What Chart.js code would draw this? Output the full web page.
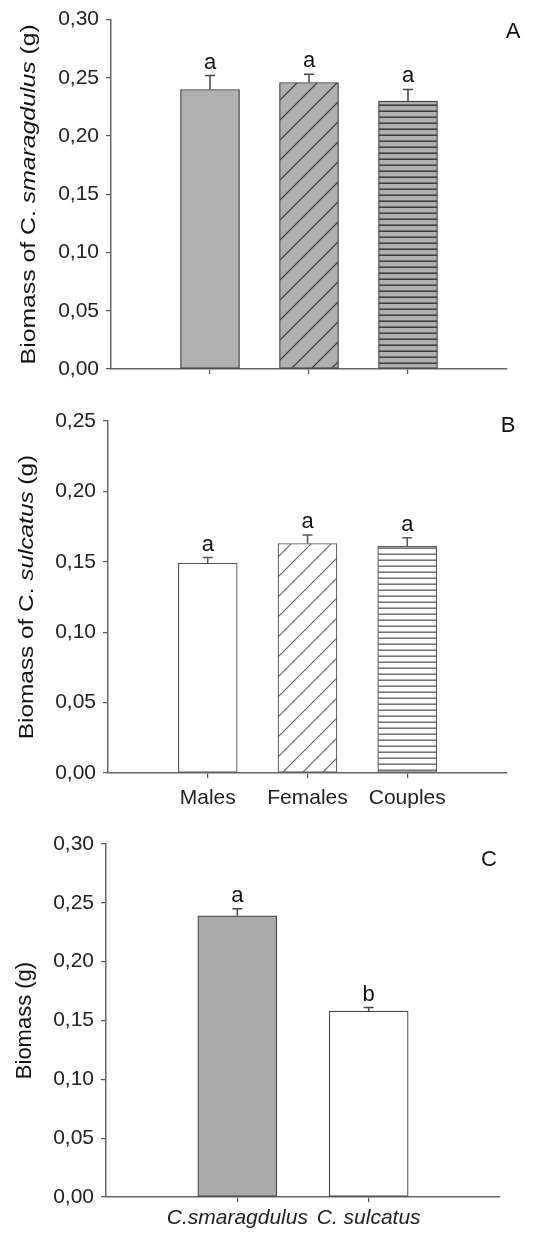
<!DOCTYPE html>
<html>
<head>
<meta charset="utf-8">
<script src="https://cdn.jsdelivr.net/npm/chart.js@4.4.0/dist/chart.umd.min.js"></script>
<style>
body { margin: 0; background: #fff; }
.panel { position: absolute; left: 0; width: 533px; }
</style>
</head>
<body>
<div class="panel" style="top:0;height:395px"><canvas id="chartA" width="533" height="395"></canvas></div>
<div class="panel" style="top:395px;height:425px"><canvas id="chartB" width="533" height="425"></canvas></div>
<div class="panel" style="top:820px;height:416px"><canvas id="chartC" width="533" height="416"></canvas></div>
<script>
var FONT = "'Liberation Sans', Arial, sans-serif";

// categories
var sexLabels = ["Males", "Females", "Couples"];
var speciesLabels = ["C.smaragdulus", "C. sulcatus"];

// panel A: C. smaragdulus biomass (g)
var biomassA = [0.240, 0.246, 0.230];
var errorA = [0.012, 0.007, 0.010];
var lettersA = ["a", "a", "a"];

// panel B: C. sulcatus biomass (g)
var biomassB = [0.149, 0.163, 0.161];
var errorB = [0.004, 0.006, 0.006];
var lettersB = ["a", "a", "a"];

// panel C: both species
var biomassC = [0.239, 0.158];
var errorC = [0.006, 0.003];
var lettersC = ["a", "b"];

var yMaxA = 0.30, yMaxB = 0.25, yMaxC = 0.30;
var yStep = 0.05;

var titleA = [{ text: "Biomass of C. " }, { text: "smaragdulus", italic: true }, { text: " (g)" }];
var titleB = [{ text: "Biomass of C. " }, { text: "sulcatus", italic: true }, { text: " (g)" }];
var titleC = [{ text: "Biomass (g)" }];

function hatch(kind, bg, fg) {
  var c = document.createElement("canvas");
  var g = c.getContext("2d");
  if (kind === "diag") {
    c.width = 20; c.height = 20;
    g.fillStyle = bg; g.fillRect(0, 0, 20, 20);
    g.strokeStyle = fg; g.lineWidth = 1.2;
    g.beginPath();
    g.moveTo(-2, 22); g.lineTo(22, -2);
    g.moveTo(-2, 2); g.lineTo(2, -2);
    g.moveTo(18, 22); g.lineTo(22, 18);
    g.stroke();
  } else {
    c.width = 8; c.height = 6;
    g.fillStyle = bg; g.fillRect(0, 0, 8, 6);
    g.fillStyle = fg; g.fillRect(0, 2.5, 8, 1.4);
  }
  return c.getContext("2d").createPattern(c, "repeat");
}

function drawTitle(ctx, parts, bx, cy, size, stretch) {
  ctx.save();
  ctx.translate(bx, cy);
  ctx.rotate(-Math.PI / 2);
  ctx.scale(stretch, 1);
  var widths = parts.map(function(pt) {
    ctx.font = (pt.italic ? "italic " : "") + size + "px " + FONT;
    return ctx.measureText(pt.text).width;
  });
  var x0 = -widths.reduce(function(a, b) { return a + b; }, 0) / 2;
  ctx.textAlign = "left";
  ctx.textBaseline = "alphabetic";
  ctx.fillStyle = "#111";
  parts.forEach(function(pt, i) {
    ctx.font = (pt.italic ? "italic " : "") + size + "px " + FONT;
    ctx.fillText(pt.text, x0, 0);
    x0 += widths[i];
  });
  ctx.restore();
}

function makePanel(id, p) {
  var canvas = document.getElementById(id);
  var labels = [""].concat(p.labels, [""]);
  var values = [null].concat(p.values, [null]);
  var colors = [null].concat(p.fills, [null]);
  var n = labels.length;

  var extras = {
    id: "extras",
    afterDatasetsDraw: function(chart) {
      var ctx = chart.ctx, x = chart.scales.x, y = chart.scales.y, area = chart.chartArea;
      ctx.save();
      ctx.strokeStyle = p.errColor;
      ctx.lineWidth = 1.5;
      ctx.font = "22px " + FONT;
      ctx.fillStyle = "#111";
      ctx.textAlign = "center";
      ctx.textBaseline = "alphabetic";
      p.values.forEach(function(v, i) {
        var px = x.getPixelForValue(i + 1);
        var top = y.getPixelForValue(v + p.errors[i]);
        var base = y.getPixelForValue(v);
        ctx.beginPath();
        ctx.moveTo(px, base); ctx.lineTo(px, top);
        ctx.moveTo(px - 5, top); ctx.lineTo(px + 5, top);
        ctx.stroke();
        ctx.fillText(p.letters[i], px, top - 7);
      });
      ctx.fillText(p.panel, area.right + p.panelDx, area.top + p.panelDy);
      ctx.restore();
      drawTitle(ctx, p.title, p.titleX, (area.top + area.bottom) / 2, p.titleSize, p.titleStretch);
    }
  };

  return new Chart(canvas, {
    type: "bar",
    data: {
      labels: labels,
      datasets: [{
        data: values,
        backgroundColor: colors,
        borderColor: p.border,
        borderWidth: 1.2,
        borderSkipped: false,
        barThickness: p.barWidth
      }]
    },
    options: {
      responsive: false,
      animation: false,
      layout: { padding: { left: 0, top: p.top, right: canvas.width - p.right, bottom: canvas.height - p.bottom - p.xHeight } },
      plugins: { legend: { display: false }, tooltip: { enabled: false } },
      scales: {
        x: {
          type: "category",
          offset: false,
          grid: {
            offset: false,
            drawOnChartArea: false,
            drawTicks: true,
            tickLength: 5,
            lineWidth: 1.2,
            color: function(c) { return (c.index === 0 || c.index === n - 1) ? "rgba(0,0,0,0)" : "#555"; }
          },
          border: { display: true, color: "#666", width: 1.5 },
          ticks: {
            display: p.showLabels,
            autoSkip: false,
            maxRotation: 0,
            minRotation: 0,
            padding: p.labelPad,
            color: "#222",
            font: { family: FONT, size: 21, style: p.italicLabels ? "italic" : "normal" }
          },
          afterFit: function(s) { s.height = p.xHeight; }
        },
        y: {
          min: 0,
          max: p.yMax,
          grid: { drawOnChartArea: false, drawTicks: true, tickLength: 5, lineWidth: 1.2, color: "#555" },
          border: { display: true, color: "#666", width: 1.5 },
          ticks: {
            stepSize: yStep,
            padding: 7,
            color: "#222",
            font: { family: FONT, size: 21 },
            callback: function(v) { return v.toFixed(2).replace(".", ","); }
          },
          afterFit: function(s) { s.width = p.left; }
        }
      }
    },
    plugins: [extras]
  });
}

var greyFill = "#b0b0b0";

makePanel("chartA", {
  labels: sexLabels, values: biomassA, errors: errorA, letters: lettersA,
  fills: [greyFill, hatch("diag", greyFill, "#333"), hatch("horiz", greyFill, "#333")],
  border: "#3a3a3a", errColor: "#444", barWidth: 59,
  yMax: yMaxA, left: 111, right: 507, top: 16, bottom: 369, xHeight: 20,
  showLabels: false, italicLabels: false, labelPad: 9,
  panel: "A", panelDx: 6, panelDy: 18,
  title: titleA, titleX: 35, titleSize: 21, titleStretch: 1.18
});

makePanel("chartB", {
  labels: sexLabels, values: biomassB, errors: errorB, letters: lettersB,
  fills: ["#ffffff", hatch("diag", "#ffffff", "#666"), hatch("horiz", "#ffffff", "#666")],
  border: "#555", errColor: "#555", barWidth: 59,
  yMax: yMaxB, left: 108, right: 507, top: 26, bottom: 378, xHeight: 40,
  showLabels: true, italicLabels: false, labelPad: 8,
  panel: "B", panelDx: 1, panelDy: 11,
  title: titleB, titleX: 33, titleSize: 21, titleStretch: 1.16
});

makePanel("chartC", {
  labels: speciesLabels, values: biomassC, errors: errorC, letters: lettersC,
  fills: ["#aaaaaa", "#ffffff"],
  border: "#444", errColor: "#444", barWidth: 79,
  yMax: yMaxC, left: 106, right: 500, top: 24, bottom: 377, xHeight: 38,
  showLabels: true, italicLabels: true, labelPad: 4,
  panel: "C", panelDx: -11, panelDy: 22,
  title: titleC, titleX: 31, titleSize: 22, titleStretch: 1.0
});
</script>
</body>
</html>
